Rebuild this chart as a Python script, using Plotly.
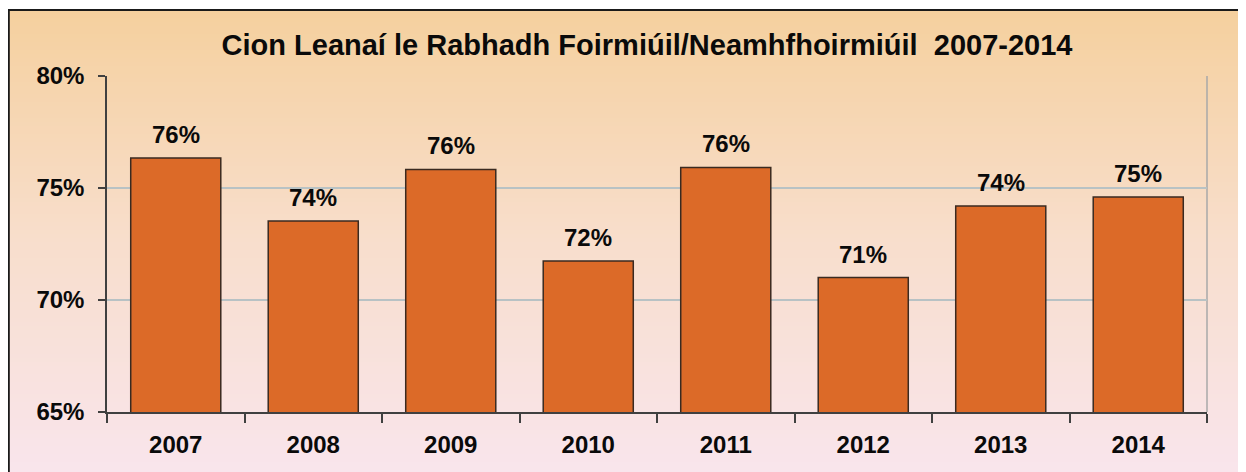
import plotly.graph_objects as go

years = ["2007", "2008", "2009", "2010", "2011", "2012", "2013", "2014"]
values = [76.34, 73.53, 75.83, 71.74, 75.92, 71.0, 74.2, 74.6]
y_ticks = [65, 70, 75, 80]
title_text = "Cion Leanaí le Rabhadh Foirmiúil/Neamhfhoirmiúil  2007-2014"

W, H = 1246, 472
OFF = 8  # page body margin
# plot area in screen pixels
SL, SR, ST, SB = 107, 1207, 76, 412
L, R, T, B = SL - OFF, SR - OFF, ST - OFF, SB - OFF


def px2x(px):  # screen px -> paper x
    return (px - SL) / (SR - SL)


def py2y(py):  # screen px -> paper y
    return (SB - py) / (SB - ST)


def lerp(c1, c2, t):
    return tuple(round(a + (b - a) * t) for a, b in zip(c1, c2))


stops = [(10, (245, 208, 158)), (240, (248, 222, 204)), (480, (249, 229, 237))]


def grad(py):
    for (y0, c0), (y1, c1) in zip(stops[:-1], stops[1:]):
        if py <= y1:
            return lerp(c0, c1, (py - y0) / (y1 - y0))
    return stops[-1][1]


shapes = []
step = 4
py = 10
while py < H + OFF:
    c = grad(py + step / 2)
    shapes.append(dict(type="rect", xref="paper", yref="paper",
                       x0=px2x(OFF), x1=px2x(W + OFF + 5), y0=py2y(py + step + 0.5), y1=py2y(py),
                       fillcolor="rgb(%d,%d,%d)" % c, line=dict(width=0), layer="below"))
    py += step

# outer frame (left and top visible)
shapes.append(dict(type="line", xref="paper", yref="paper",
                   x0=px2x(OFF + 0.8), x1=px2x(OFF + 0.8), y0=py2y(H + 20), y1=py2y(10),
                   line=dict(color="#1a1a1a", width=2), layer="above"))
shapes.append(dict(type="line", xref="paper", yref="paper",
                   x0=px2x(OFF), x1=px2x(W + 20), y0=py2y(10), y1=py2y(10),
                   line=dict(color="#1a1a1a", width=2), layer="above"))
# right border of plot area
shapes.append(dict(type="line", xref="paper", yref="paper",
                   x0=1, x1=1, y0=0, y1=1,
                   line=dict(color="#A8A8A8", width=1.5), layer="below"))

fig = go.Figure()
fig.add_trace(go.Bar(
    x=years, y=values,
    marker=dict(color="#DC6A28", line=dict(color="#3A2A20", width=1.5)),
    hoverinfo="skip",
))

annotations = []
for i, v in enumerate(values):
    annotations.append(dict(x=i, y=v, xref="x", yref="y", text=f"<b>{round(v)}%</b>",
                            showarrow=False, yanchor="bottom", yshift=8,
                            font=dict(family="Liberation Sans", size=24, color="#0a0a0a")))

fig.update_layout(
    width=W, height=H,
    margin=dict(l=L, r=W - R, t=T, b=H - B, pad=0),
    paper_bgcolor="white",
    plot_bgcolor="rgba(0,0,0,0)",
    showlegend=False,
    bargap=0.345,
    title=dict(text="<b>" + title_text + "</b>", x=(647 - OFF) / W, xanchor="center",
               y=1 - (45 - OFF) / H, yanchor="middle", yref="container",
               font=dict(family="Liberation Sans", size=29, color="#0a0a0a")),
    font=dict(family="Liberation Sans", color="#0a0a0a"),
    shapes=shapes,
    annotations=annotations,
    xaxis=dict(type="category", range=[-0.5, len(years) - 0.5], autorange=False,
               tickvals=years, ticktext=[f"<b>{y}</b>" for y in years],
               showgrid=False, showline=True, linecolor="#404040", linewidth=1.5,
               ticks="outside", tickson="boundaries", ticklen=9, tickcolor="#404040", tickwidth=1.5,
               tickfont=dict(family="Liberation Sans", size=24, color="#0a0a0a"),
               ticklabelstandoff=10),
    yaxis=dict(range=[65, 80], autorange=False, tickvals=y_ticks,
               ticktext=[f"<b>{t}%</b>" for t in y_ticks],
               showgrid=True, gridcolor="#B8C2C4", gridwidth=1.5,
               showline=True, linecolor="#404040", linewidth=1.5,
               ticks="outside", ticklen=7, tickcolor="#404040", tickwidth=1.5,
               tickfont=dict(family="Liberation Sans", size=24, color="#0a0a0a"),
               ticklabelstandoff=9, zeroline=False),
)

fig.write_html("out.html")
